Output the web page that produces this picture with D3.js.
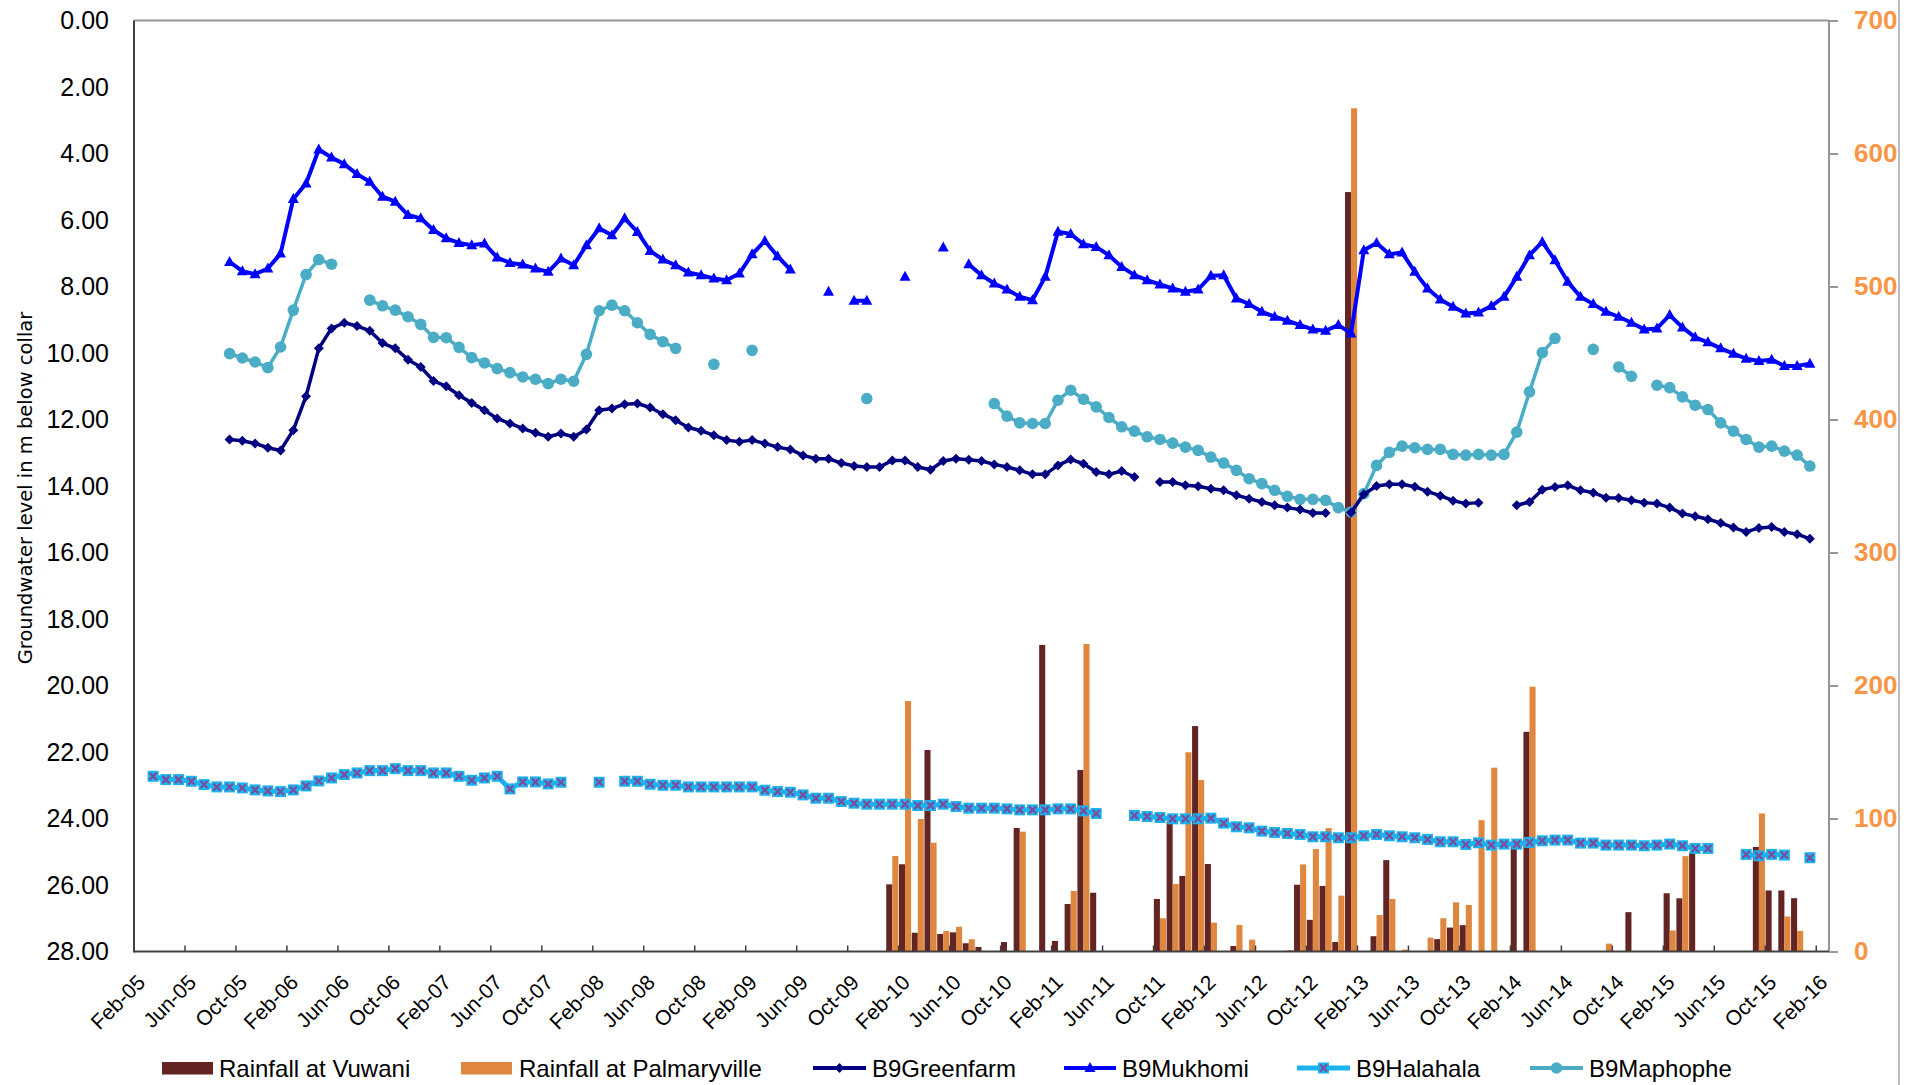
<!DOCTYPE html>
<html>
<head>
<meta charset="utf-8">
<script src="https://cdn.jsdelivr.net/npm/d3@7"></script>
<style>
  html, body { margin: 0; padding: 0; background: #fff; }
  svg { display: block; font-family: "Liberation Sans", Arial, sans-serif; }
</style>
</head>
<body>
<svg id="chart" width="1917" height="1085"></svg>
<script>
// Monthly categories, Feb-05 .. Feb-16 (133 months)
const months = d3.timeMonth.range(new Date(2005, 1, 1), new Date(2016, 2, 1));
const monthFormat = d3.timeFormat("%b-%y");

// Tick labels on the left (groundwater depth, m) and right (rainfall, mm) axes
const depthTicks = d3.range(0, 28.01, 2);
const rainTicks = d3.range(0, 701, 100);

// Monthly rainfall (mm); index 0 = Feb-05
const N = null;
const rainVuwani = [
  N,N,N,N,N,N,N,N,N,N,N,N,N,N,N,N,N,N,N,N,N,N,N,N,N,N,N,N,N,N,
  N,N,N,N,N,N,N,N,N,N,N,N,N,N,N,N,N,N,N,N,N,N,N,N,N,N,N,N,N,50.5,
  65.6,14.1,151.5,13.2,14.4,6.2,3.4,N,7.1,92.9,N,230.5,7.9,35.7,136.5,44.2,N,N,N,N,
  39.5,97.6,56.8,169.5,65.8,N,4.1,N,N,N,N,50.2,23.8,49.3,7.2,571,N,11.5,68.7,N,
  N,N,9.3,18,19.8,N,N,N,79,165.2,N,N,N,N,N,N,N,29.6,N,N,
  43.8,40,74.5,N,N,N,N,78.6,45.9,45.9,40.1,N,N
];
const rainPalmaryville = [
  N,N,N,N,N,N,N,N,N,N,N,N,N,N,N,N,N,N,N,N,N,N,N,N,N,N,N,N,N,N,
  N,N,N,N,N,N,N,N,N,N,N,N,N,N,N,N,N,N,N,N,N,N,N,N,N,N,N,N,N,71.8,
  188.3,99.6,81.8,15.4,18.6,9.2,N,N,N,90.1,N,N,N,45.5,231.2,N,N,N,N,N,
  25,50.8,149.8,128.9,21.7,N,20,8.9,N,N,1,65.5,77,92.8,42,634,N,27.4,39.5,1.4,
  N,10.4,25,37,35,98.7,138.2,N,N,199.1,N,N,N,N,N,5.9,N,N,N,N,
  15.8,71.7,N,N,N,N,N,103.8,N,26.3,15.5,N,N
];

// Groundwater level below collar (m); index 0 = Feb-05
const b9Greenfarm = [
  N,N,N,N,N,N,N,12.60,12.64,12.72,12.85,12.93,12.32,11.30,9.86,9.26,9.09,9.19,9.33,9.70,
  9.86,10.20,10.42,10.84,11.00,11.27,11.50,11.72,11.97,12.12,12.27,12.40,12.52,12.42,12.52,12.30,11.72,11.67,11.54,11.52,
  11.64,11.84,12.02,12.24,12.34,12.47,12.62,12.67,12.62,12.72,12.83,12.90,13.08,13.18,13.18,13.31,13.40,13.43,13.43,13.23,
  13.23,13.43,13.51,13.25,13.18,13.21,13.25,13.35,13.43,13.53,13.65,13.65,13.38,13.20,13.33,13.58,13.65,13.55,13.73,N,
  13.88,13.88,13.98,14.01,14.08,14.13,14.28,14.38,14.48,14.58,14.65,14.71,14.81,14.81,N,14.80,14.25,14.00,13.95,13.95,
  14.02,14.17,14.29,14.44,14.53,14.50,N,N,14.58,14.48,14.11,14.03,13.98,14.13,14.20,14.35,14.36,14.43,14.50,14.53,
  14.65,14.83,14.91,15.00,15.11,15.25,15.38,15.26,15.23,15.38,15.45,15.59,N
];
const b9Mukhomi = [
  N,N,N,N,N,N,N,7.26,7.54,7.63,7.46,7.01,5.37,4.90,3.88,4.12,4.32,4.62,4.85,5.30,
  5.45,5.85,5.95,6.30,6.55,6.69,6.76,6.71,7.13,7.29,7.34,7.46,7.56,7.16,7.36,6.76,6.25,6.46,5.95,6.36,
  6.93,7.19,7.36,7.58,7.66,7.76,7.81,7.61,7.03,6.63,7.09,7.49,N,N,8.16,N,8.43,8.43,N,N,
  7.71,N,N,6.83,N,7.33,7.66,7.91,8.09,8.31,8.41,7.71,6.35,6.42,6.73,6.81,7.06,7.41,7.66,7.81,
  7.94,8.06,8.16,8.09,7.68,7.66,8.36,8.53,8.76,8.91,9.03,9.16,9.29,9.33,9.16,9.41,6.91,6.69,7.03,6.98,
  7.56,8.06,8.39,8.61,8.81,8.78,8.59,8.31,7.71,7.06,6.66,7.21,7.86,8.31,8.53,8.76,8.91,9.09,9.29,9.26,
  8.86,9.23,9.53,9.68,9.86,10.02,10.17,10.24,10.20,10.39,10.39,10.32,N
];
const b9Halahala = [
  N,22.73,22.83,22.83,22.88,22.98,23.05,23.05,23.08,23.14,23.17,23.19,23.14,23.02,22.87,22.78,22.68,22.63,22.56,22.56,
  22.50,22.56,22.56,22.63,22.63,22.73,22.85,22.78,22.73,23.11,22.90,22.90,22.96,22.91,N,N,22.91,N,22.88,22.88,
  22.97,23.00,23.00,23.05,23.05,23.05,23.05,23.05,23.05,23.15,23.19,23.21,23.29,23.39,23.39,23.49,23.54,23.57,23.57,23.57,
  23.57,23.61,23.61,23.57,23.64,23.69,23.69,23.69,23.71,23.74,23.74,23.74,23.71,23.71,23.77,23.85,N,N,23.91,23.94,
  23.97,24.01,24.01,24.01,23.99,24.14,24.25,24.28,24.38,24.42,24.45,24.48,24.55,24.55,24.58,24.58,24.52,24.48,24.52,24.55,
  24.58,24.63,24.70,24.70,24.78,24.73,24.80,24.77,24.77,24.72,24.67,24.65,24.65,24.74,24.74,24.80,24.80,24.80,24.82,24.80,
  24.77,24.82,24.90,24.90,N,N,25.08,25.12,25.08,25.10,N,25.18,N
];
const b9Maphophe = [
  N,N,N,N,N,N,N,10.02,10.15,10.27,10.44,9.82,8.71,7.64,7.19,7.33,N,N,8.41,8.58,
  8.71,8.91,9.14,9.53,9.54,9.83,10.14,10.30,10.47,10.59,10.72,10.79,10.92,10.79,10.85,10.04,8.73,8.56,8.73,9.09,
  9.44,9.66,9.86,N,N,10.34,N,N,9.92,N,N,N,N,N,N,N,N,11.37,N,N,
  N,N,N,N,N,N,N,11.52,11.90,12.10,12.12,12.12,11.42,11.12,11.39,11.62,11.94,12.22,12.35,12.52,
  12.60,12.71,12.83,12.93,13.13,13.31,13.53,13.78,13.93,14.13,14.31,14.40,14.40,14.43,14.65,14.78,14.23,13.38,12.99,12.80,
  12.85,12.90,12.90,13.05,13.07,13.05,13.07,13.05,12.38,11.17,9.99,9.56,N,N,9.89,N,10.42,10.70,N,10.97,
  11.04,11.32,11.57,11.70,12.10,12.35,12.60,12.83,12.80,12.95,13.07,13.40,N
];

const svg = d3.select("#chart");
const W = 1917, H = 1085;
const plot = { left: 134, right: 1829, top: 20.5, bottom: 951.5 };

svg.append("rect").attr("width", W).attr("height", H).attr("fill", "#fff");

const x = d3.scaleBand().domain(d3.range(months.length)).range([plot.left, plot.right]).padding(0);
const bw = x.bandwidth();
const cx = i => x(i) + bw / 2;
const yL = d3.scaleLinear().domain([0, 28]).range([plot.top, plot.bottom]);
const yR = d3.scaleLinear().domain([0, 700]).range([plot.bottom, plot.top]);
const xInner = d3.scaleBand().domain(["v", "p"]).range([0, bw]).paddingInner(0).paddingOuter(0.05);

const colors = {
  vuwani: "#632523",
  palm: "#DF873E",
  greenfarm: "#000080",
  mukhomi: "#0000FF",
  halahala: "#1CB2EE",
  halahalaX: "#7B4C9C",
  maphophe: "#4BACC6",
  rightAxisText: "#F79646"
};

// Rainfall bars (right axis)
const barG = svg.append("g");
function drawBars(values, key, color) {
  barG.selectAll(null)
    .data(values.map((v, i) => ({ i, v })).filter(d => d.v != null))
    .join("rect")
    .attr("x", d => x(d.i) + xInner(key))
    .attr("width", xInner.bandwidth())
    .attr("y", d => yR(d.v))
    .attr("height", d => yR(0) - yR(d.v))
    .attr("fill", color);
}
drawBars(rainVuwani, "v", colors.vuwani);
drawBars(rainPalmaryville, "p", colors.palm);

// Plot frame and axes
svg.append("line").attr("x1", plot.left).attr("x2", plot.right).attr("y1", plot.top).attr("y2", plot.top)
  .attr("stroke", "#969696").attr("stroke-width", 2);
svg.append("line").attr("x1", plot.right).attr("x2", plot.right).attr("y1", plot.top).attr("y2", plot.bottom)
  .attr("stroke", "#969696").attr("stroke-width", 2);
svg.append("line").attr("x1", plot.left).attr("x2", plot.left).attr("y1", plot.top).attr("y2", plot.bottom + 1)
  .attr("stroke", "#404040").attr("stroke-width", 2);

// Left axis labels
const leftAxis = d3.axisLeft(yL).tickValues(depthTicks).tickFormat(d3.format(".2f")).tickSize(0).tickPadding(25);
const gL = svg.append("g").attr("transform", `translate(${plot.left},0)`).call(leftAxis);
gL.select(".domain").remove();
gL.selectAll("text").attr("font-size", 25).attr("fill", "#000").attr("font-family", "Liberation Sans, Arial, sans-serif");

// Right axis (rainfall)
const rightAxis = d3.axisRight(yR).tickValues(rainTicks).tickSize(9).tickPadding(16);
const gR = svg.append("g").attr("transform", `translate(${plot.right},0)`).call(rightAxis);
gR.select(".domain").remove();
gR.selectAll(".tick line").attr("stroke", "#969696").attr("stroke-width", 2);
gR.selectAll("text").attr("font-size", 26).attr("font-weight", "bold").attr("fill", colors.rightAxisText)
  .attr("font-family", "Liberation Sans, Arial, sans-serif");

// Bottom axis: inside tick marks at month boundaries every 4 months, rotated labels at month centres
const tickIdx = d3.range(0, months.length, 4);
const gB = svg.append("g");
gB.append("line").attr("x1", plot.left).attr("x2", plot.right).attr("y1", plot.bottom).attr("y2", plot.bottom)
  .attr("stroke", "#404040").attr("stroke-width", 2);
gB.selectAll("line.tk").data(tickIdx).join("line").attr("class", "tk")
  .attr("x1", i => x(i)).attr("x2", i => x(i))
  .attr("y1", plot.bottom).attr("y2", plot.bottom - 6)
  .attr("stroke", "#404040").attr("stroke-width", 1.5);
gB.selectAll("text").data(tickIdx).join("text")
  .attr("transform", i => `translate(${cx(i) + 1},${plot.bottom + 27}) rotate(-45)`)
  .attr("text-anchor", "end").attr("dy", "0.35em")
  .attr("font-size", 21).attr("fill", "#000")
  .text(i => monthFormat(months[i]));

// Y axis title
svg.append("text")
  .attr("transform", `translate(32,488) rotate(-90)`)
  .attr("text-anchor", "middle")
  .attr("font-family", "DejaVu Sans, Verdana, sans-serif")
  .attr("font-size", 19.5).attr("fill", "#000")
  .text("Groundwater level in m below collar");

// Marker shapes
const markers = {
  diamond: (g, c) => g.append("path").attr("d", "M0,-5L5,0L0,5L-5,0Z").attr("fill", c),
  triangle: (g, c) => g.append("path").attr("d", "M0,-6L5.5,4L-5.5,4Z").attr("fill", c),
  circle: (g, c) => g.append("circle").attr("r", 5.8).attr("fill", c),
  cross: (g, c) => {
    g.append("rect").attr("x", -5.5).attr("y", -5.5).attr("width", 11).attr("height", 11).attr("fill", c);
    g.append("path").attr("d", "M-3.5,-3.5L3.5,3.5M-3.5,3.5L3.5,-3.5")
      .attr("stroke", colors.halahalaX).attr("stroke-width", 2.2).attr("fill", "none");
  }
};

function drawSeries(values, color, width, marker) {
  const pts = values.map((v, i) => ({ i, v }));
  const line = d3.line().defined(d => d.v != null).x(d => cx(d.i)).y(d => yL(d.v));
  svg.append("path").datum(pts).attr("d", line)
    .attr("fill", "none").attr("stroke", color).attr("stroke-width", width)
    .attr("stroke-linejoin", "round");
  const g = svg.append("g");
  pts.filter(d => d.v != null).forEach(d => {
    const m = g.append("g").attr("transform", `translate(${cx(d.i)},${yL(d.v)})`);
    markers[marker](m, color);
  });
}
drawSeries(b9Halahala, colors.halahala, 5, "cross");
drawSeries(b9Maphophe, colors.maphophe, 3.5, "circle");
drawSeries(b9Greenfarm, colors.greenfarm, 3.5, "diamond");
drawSeries(b9Mukhomi, colors.mukhomi, 4, "triangle");

// Legend
const legendY = 1068;
const legend = svg.append("g").attr("font-size", 24).attr("fill", "#000");
const legendItems = [
  { name: "Rainfall at Vuwani", type: "bar", color: colors.vuwani, x0: 162, x1: 213, tx: 219 },
  { name: "Rainfall at Palmaryville", type: "bar", color: colors.palm, x0: 461, x1: 512, tx: 519 },
  { name: "B9Greenfarm", type: "line", color: colors.greenfarm, marker: "diamond", w: 4, x0: 813, x1: 866, tx: 872 },
  { name: "B9Mukhomi", type: "line", color: colors.mukhomi, marker: "triangle", w: 4, x0: 1064, x1: 1116, tx: 1122 },
  { name: "B9Halahala", type: "line", color: colors.halahala, marker: "cross", w: 5, x0: 1297, x1: 1350, tx: 1356 },
  { name: "B9Maphophe", type: "line", color: colors.maphophe, marker: "circle", w: 4, x0: 1530, x1: 1583, tx: 1589 }
];
legendItems.forEach(it => {
  if (it.type === "bar") {
    legend.append("rect").attr("x", it.x0).attr("y", legendY - 6).attr("width", it.x1 - it.x0).attr("height", 12.5)
      .attr("fill", it.color);
  } else {
    legend.append("line").attr("x1", it.x0).attr("x2", it.x1).attr("y1", legendY).attr("y2", legendY)
      .attr("stroke", it.color).attr("stroke-width", it.w);
    const m = legend.append("g").attr("transform", `translate(${(it.x0 + it.x1) / 2},${legendY})`);
    markers[it.marker](m, it.color);
  }
  legend.append("text").attr("x", it.tx).attr("y", legendY + 9).text(it.name);
});

// Outer chart border on the right
svg.append("line").attr("x1", 1899).attr("x2", 1899).attr("y1", 0).attr("y2", H)
  .attr("stroke", "#A6A6A6").attr("stroke-width", 1.5);
</script>
</body>
</html>
